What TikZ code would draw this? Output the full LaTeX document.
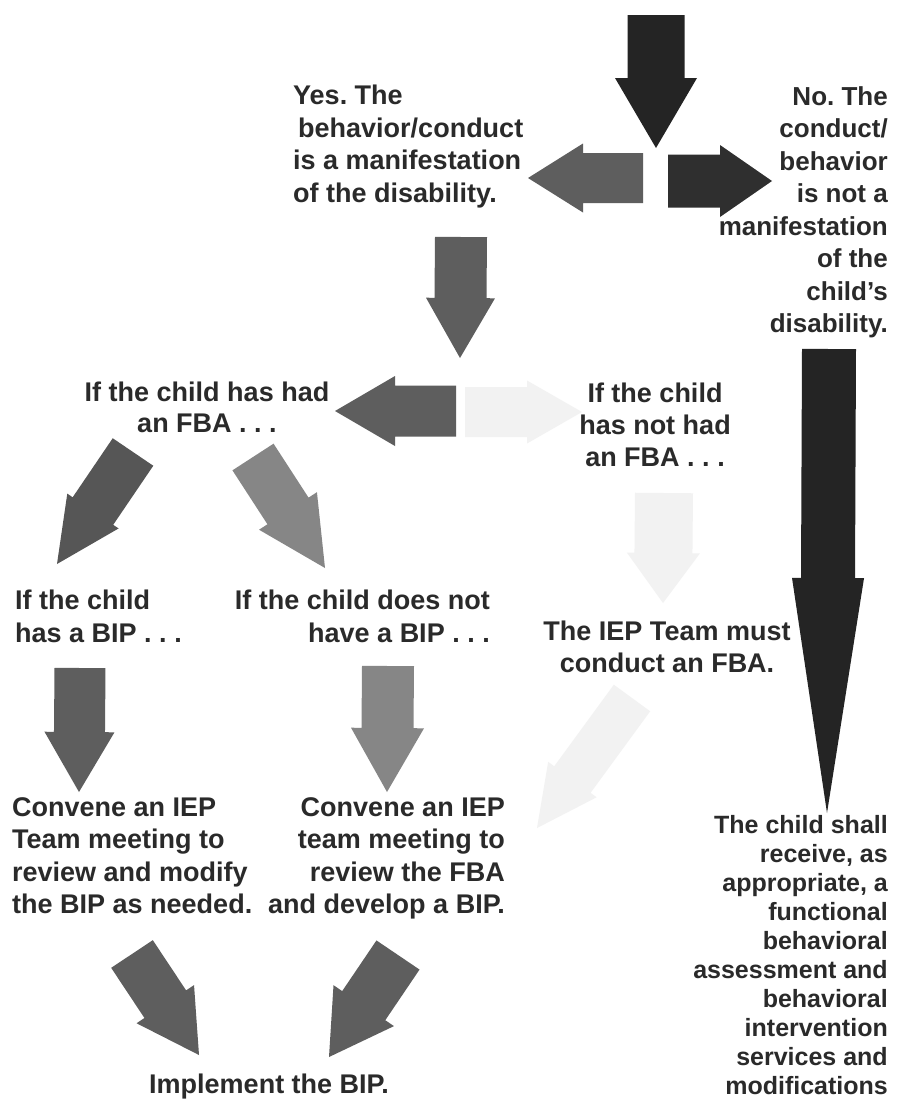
\documentclass[tikz,border=0pt]{standalone}
\usepackage{fontspec}
\setmainfont{Liberation Sans}
\usepackage{tikz}
\usetikzlibrary{calc}
\usetikzlibrary{positioning}

\definecolor{txtgray}{RGB}{42,42,42}
\definecolor{darkarrow}{RGB}{36,36,36}
\definecolor{midarrow}{RGB}{94,94,94}
\definecolor{lightarrow}{RGB}{134,134,134}
\definecolor{faintarrow}{RGB}{242,242,242}

\tikzset{
  txt/.style={inner sep=0pt, text=txtgray, font=\fontsize{27}{32.5}\selectfont\bfseries},
}

% block arrow: colour, tail, tip, half shaft width, half head width, head length
\newcommand{\blockarrow}[6]{%
  \coordinate (hb) at ($(#3)!#6!(#2)$);
  \fill [#1] ($(#2)!#4!90:(#3)$) -- ($(hb)!#4!90:(#3)$) -- ($(hb)!#5!90:(#3)$) -- (#3)
    -- ($(hb)!#5!-90:(#3)$) -- ($(hb)!#4!-90:(#3)$) -- ($(#2)!#4!-90:(#3)$) -- cycle;}

\begin{document}
\frenchspacing
\begin{tikzpicture}[x=1pt,y=1pt,yscale=-1,xscale=1]
\useasboundingbox[fill=white] (0,0) rectangle (897,1100);

% Text Node
\node [txt, anchor=north west, align=left] (yes) at (293,85)
  {Yes. The\\\hspace{5pt}behavior/conduct\\is a manifestation\\of the disability.};
% Text Node
\node [txt, anchor=north east, align=right, font=\fontsize{26}{32.5}\selectfont\bfseries] (no) at (888,86)
  {No. The\\conduct/\\behavior\\is not a\\manifestation\\of the\\child’s\\disability.};
% Text Node
\node [txt, anchor=north, align=center, font=\fontsize{27}{31}\selectfont\bfseries] (hashad) at (207,382)
  {If the child has had\\an FBA . . .};
% Text Node
\node [txt, anchor=north, align=center, font=\fontsize{27}{32}\selectfont\bfseries] (hasnot) at (655,383)
  {If the child\\has not had\\an FBA . . .};
% Text Node
\node [txt, anchor=north west, align=left, font=\fontsize{27}{33}\selectfont\bfseries] (hasbip) at (15,590)
  {If the child\\has a BIP . . .};
% Text Node
\node [txt, anchor=north east, align=right, font=\fontsize{27}{33}\selectfont\bfseries] (nobip) at (490,590)
  {If the child does not\\have a BIP . . .};
% Text Node
\node [txt, anchor=north, align=center, font=\fontsize{27}{32}\selectfont\bfseries] (mustfba) at (667,621)
  {The IEP Team must\\conduct an FBA.};
% Text Node
\node [txt, anchor=north west, align=left] (modify) at (12,797)
  {Convene an IEP\\Team meeting to\\review and modify\\the BIP as needed.};
% Text Node
\node [txt, anchor=north east, align=right] (develop) at (505,797)
  {Convene an IEP\\team meeting to\\review the FBA\\and develop a BIP.};
% Text Node
\node [txt, anchor=north] (implement) at (269,1074) {Implement the BIP.};
% Text Node
\node [txt, anchor=north east, align=right, font=\fontsize{25}{29}\selectfont\bfseries] (services) at (888,815)
  {The child shall\\receive, as\\appropriate, a\\functional\\behavioral\\assessment and\\behavioral\\intervention\\services and\\modifications};

% Arrow ends
\coordinate (top0) at (656,15);   \coordinate (top1) at (656,148);
\coordinate (yes0) at (643,178);  \coordinate (yes1) at (528,178);
\coordinate (no0) at (668,181);   \coordinate (no1) at (772,181);
\coordinate (dn0) at (461,237);   \coordinate (dn1) at (460,358);
\coordinate (had0) at (456,411);  \coordinate (had1) at (335,411);
\coordinate (not0) at (465,412);  \coordinate (not1) at (582,412);
\coordinate (bip0) at (133,452);  \coordinate (bip1) at (57,564);
\coordinate (nob0) at (253,457);  \coordinate (nob1) at (325,568);
\coordinate (mod0) at (80,668);   \coordinate (mod1) at (79,792);
\coordinate (dev0) at (388,666);  \coordinate (dev1) at (387,792);
\coordinate (fba0) at (664,493);  \coordinate (fba1) at (663,603);
\coordinate (con0) at (632,698);  \coordinate (con1) at (537,828);
\coordinate (srv0) at (829,349);  \coordinate (srv1) at (827,813);
\coordinate (imp0) at (132,954);  \coordinate (imp1) at (199,1055);
\coordinate (imq0) at (398,955);  \coordinate (imq1) at (329,1057);

%Block Arrows
\blockarrow{darkarrow}{top0}{top1}{28.5pt}{41pt}{70pt}
\blockarrow{midarrow}{yes0}{yes1}{25pt}{34.5pt}{55pt}
\blockarrow{darkarrow!95!white}{no0}{no1}{26.5pt}{36pt}{52pt}
\blockarrow{midarrow}{dn0}{dn1}{26pt}{34.5pt}{60pt}
\blockarrow{midarrow}{had0}{had1}{25.5pt}{35pt}{60pt}
\blockarrow{faintarrow}{not0}{not1}{25pt}{31.5pt}{55pt}
\blockarrow{midarrow!92!black}{bip0}{bip1}{24.5pt}{31pt}{64pt}
\blockarrow{lightarrow}{nob0}{nob1}{24.5pt}{34.5pt}{68pt}
\blockarrow{midarrow}{mod0}{mod1}{25.5pt}{35pt}{60pt}
\blockarrow{lightarrow}{dev0}{dev1}{26pt}{36.5pt}{64pt}
\blockarrow{faintarrow}{fba0}{fba1}{29pt}{36.5pt}{50pt}
\blockarrow{faintarrow}{con0}{con1}{22.5pt}{30pt}{60pt}
\blockarrow{darkarrow}{srv0}{srv1}{27pt}{36pt}{235pt}
\blockarrow{midarrow}{imp0}{imp1}{25pt}{34.5pt}{61pt}
\blockarrow{midarrow}{imq0}{imq1}{26pt}{36.5pt}{62pt}

\end{tikzpicture}
\end{document}
